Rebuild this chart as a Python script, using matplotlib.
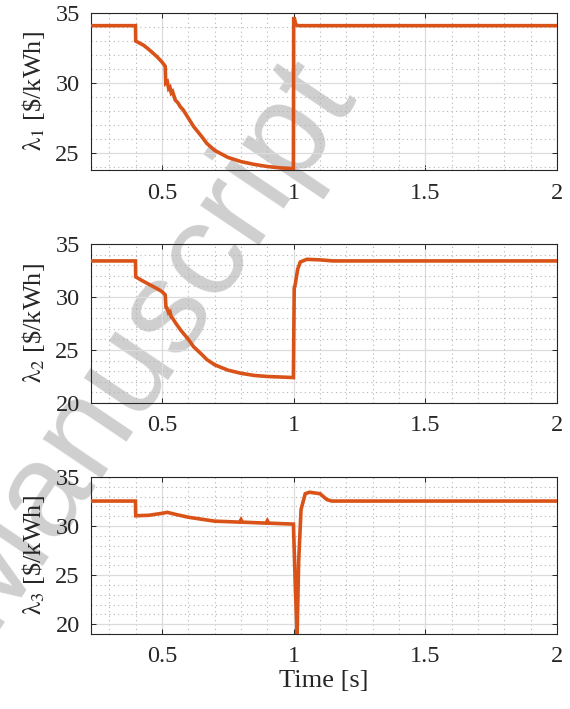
import matplotlib
matplotlib.use('Agg')
import matplotlib.pyplot as plt
from matplotlib.ticker import MultipleLocator

plt.rcParams['font.family'] = ['Liberation Serif', 'DejaVu Serif']
plt.rcParams['mathtext.fontset'] = 'stix'

# price of each agent over time
t1 = [0.23, 0.399, 0.400, 0.41, 0.43, 0.45, 0.48, 0.50, 0.512, 0.514, 0.52, 0.525, 0.53,
      0.535, 0.54, 0.55, 0.56, 0.57, 0.58, 0.60, 0.62, 0.65, 0.67, 0.70, 0.75, 0.80, 0.85,
      0.90, 0.95, 0.999, 1.000, 1.003, 1.008, 1.02, 2.0]
lam1 = [34.1, 34.1, 33.0, 32.9, 32.7, 32.4, 31.9, 31.5, 31.2, 30.0, 30.1, 29.6, 29.7,
        29.3, 29.4, 28.8, 28.6, 28.3, 28.1, 27.5, 26.9, 26.2, 25.7, 25.2, 24.7, 24.4, 24.2,
        24.05, 23.95, 23.9, 34.6, 34.6, 34.15, 34.1, 34.1]

t2 = [0.23, 0.399, 0.400, 0.42, 0.45, 0.48, 0.50, 0.512, 0.515, 0.52, 0.525, 0.53, 0.535,
      0.54, 0.55, 0.57, 0.60, 0.62, 0.65, 0.67, 0.70, 0.75, 0.80, 0.85, 0.90, 0.95, 0.999,
      1.002, 1.006, 1.015, 1.025, 1.05, 1.10, 1.15, 2.0]
lam2 = [33.4, 33.4, 31.9, 31.6, 31.2, 30.8, 30.5, 30.2, 29.0, 28.9, 28.5, 28.6, 28.1,
        28.0, 27.6, 26.9, 26.0, 25.3, 24.6, 24.1, 23.6, 23.1, 22.8, 22.6, 22.5, 22.45, 22.4,
        30.8, 31.2, 32.6, 33.3, 33.55, 33.5, 33.4, 33.4]

t3 = [0.23, 0.399, 0.400, 0.45, 0.50, 0.52, 0.55, 0.60, 0.65, 0.70, 0.75, 0.795, 0.80,
      0.805, 0.85, 0.895, 0.90, 0.905, 0.95, 0.999, 1.006, 1.013, 1.019, 1.028, 1.044,
      1.06, 1.10, 1.126, 1.145, 2.0]
lam3 = [32.55, 32.55, 31.05, 31.1, 31.3, 31.4, 31.2, 30.9, 30.7, 30.5, 30.45, 30.4, 30.65,
        30.4, 30.35, 30.3, 30.55, 30.3, 30.25, 30.2, 24.0, 18.8, 26.5, 31.7, 33.3,
        33.45, 33.3, 32.7, 32.55, 32.55]

xticks = [0.5, 1, 1.5, 2]
xticklabels = ['0.5', '1', '1.5', '2']

panels = [
    (t1, lam1, (23.8, 35), [25, 30, 35], r'$\mathrm{\lambda}_1$ [\$/kWh]'),
    (t2, lam2, (20, 35), [20, 25, 30, 35], r'$\mathrm{\lambda}_2$ [\$/kWh]'),
    (t3, lam3, (19, 35), [20, 25, 30, 35], r'$\mathrm{\lambda}_3$ [\$/kWh]'),
]

fig = plt.figure(figsize=(5.7, 7.09), dpi=100)

# axes boxes: left, bottom, width, height
boxes = [
    [0.1596, 0.7602, 0.8175, 0.2214],
    [0.1596, 0.4316, 0.8175, 0.2243],
    [0.1596, 0.1058, 0.8175, 0.2214],
]

fig.text(0.25, 0.52, 'Manuscript', family='Liberation Sans', fontsize=96,
         color='#cfcfcf', rotation=56, ha='center', va='center', zorder=-1)

for i, (t, lam, ylim, yticks, ylabel) in enumerate(panels):
    ax = fig.add_axes(boxes[i])
    ax.set_facecolor('none')
    ax.plot(t, lam, color='#D95319', lw=2.6, solid_joinstyle='miter', zorder=3)
    ax.set_xlim(0.23, 2)
    ax.set_ylim(*ylim)
    ax.set_xticks(xticks)
    ax.set_xticklabels(xticklabels)
    ax.set_yticks(yticks)
    ax.xaxis.set_minor_locator(MultipleLocator(0.1))
    ax.yaxis.set_minor_locator(MultipleLocator(1))
    ax.grid(True, which='major', color='#dcdcdc', lw=0.9, ls='-')
    ax.grid(True, which='minor', color='#b5b5b5', lw=0.8, ls=(0, (1, 3)))
    ax.set_axisbelow(True)
    ax.tick_params(which='major', direction='in', length=3.6, width=0.7,
                   color='#262626', top=True, right=True, labelsize=17.5,
                   labelcolor='#262626')
    ax.tick_params(axis='x', pad=9)
    ax.tick_params(axis='y', pad=8)
    ax.tick_params(which='minor', length=0)
    for s in ax.spines.values():
        s.set_color('#262626')
        s.set_linewidth(0.8)
    ax.set_ylabel(ylabel, fontsize=19, color='#262626', labelpad=6)
    if i == 2:
        ax.set_xlabel('Time [s]', fontsize=19, color='#262626', labelpad=2)

fig.savefig('out.png', dpi=100)
